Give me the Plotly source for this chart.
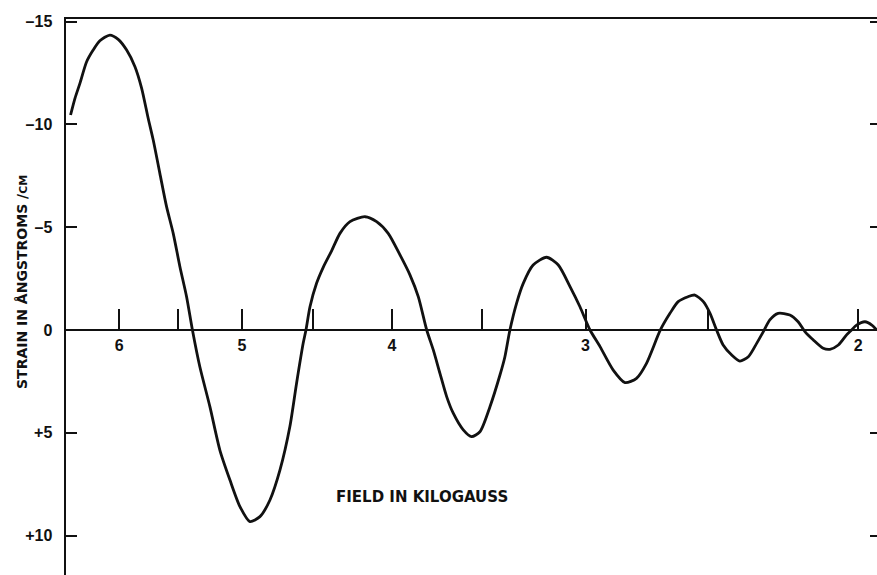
import math
import plotly.graph_objects as go

# ---- data (field in kilogauss, strain in Å/cm) ----
field_kG = [6.451, 6.409, 6.362, 6.299, 6.238, 6.176, 6.085, 6.010, 5.935, 5.862,
            5.804, 5.748, 5.705, 5.649, 5.593, 5.538, 5.483, 5.429, 5.382, 5.323,
            5.244, 5.167, 5.090, 5.015, 4.941, 4.868, 4.796, 4.725, 4.656, 4.610,
            4.565, 4.546, 4.519, 4.475, 4.431, 4.376, 4.322, 4.258, 4.164, 4.093,
            4.023, 3.953, 3.895, 3.847, 3.799, 3.762, 3.725, 3.688, 3.652, 3.598,
            3.554, 3.510, 3.458, 3.407, 3.382, 3.357, 3.324, 3.291, 3.243, 3.179,
            3.124, 3.070, 3.025, 2.980, 2.936, 2.879, 2.829, 2.781, 2.740, 2.684,
            2.646, 2.614, 2.576, 2.550, 2.518, 2.493, 2.469, 2.445, 2.414, 2.385,
            2.355, 2.326, 2.303, 2.281, 2.253, 2.214, 2.187, 2.165, 2.138, 2.107,
            2.086, 2.060, 2.035, 2.020, 2.005, 1.980, 1.960, 1.946]
strain = [-10.46, -11.27, -12.00, -13.05, -13.62, -14.07, -14.35, -14.14, -13.62, -12.81,
          -11.76, -10.30, -9.24, -7.62, -6.00, -4.70, -3.08, -1.62, 0.0, 1.79,
          3.73, 5.84, 7.30, 8.59, 9.32, 9.08, 8.27, 6.81, 4.70, 2.59,
          0.65, 0.0, -1.13, -2.27, -3.05, -3.85, -4.70, -5.27, -5.51, -5.27,
          -4.70, -3.65, -2.68, -1.62, 0.0, 0.97, 2.11, 3.24, 4.05, 4.86,
          5.19, 4.95, 3.73, 2.19, 1.30, 0.0, -1.30, -2.27, -3.16, -3.54,
          -3.16, -2.11, -1.13, 0.0, 0.81, 1.95, 2.56, 2.35, 1.62, 0.0,
          -0.81, -1.38, -1.62, -1.70, -1.38, -0.81, 0.0, 0.73, 1.22, 1.51,
          1.30, 0.65, 0.08, -0.49, -0.81, -0.73, -0.40, 0.08, 0.49, 0.89,
          0.94, 0.73, 0.24, 0.0, -0.24, -0.40, -0.24, 0.0]
assert len(field_kG) == len(strain)

x_tick_vals = [6, 5.5, 5, 4.5, 4, 3.5, 3, 2.5, 2]
x_tick_text = ["6", "", "5", "", "4", "", "3", "", "2"]
y_tick_vals = [-15, -10, -5, 0, 5, 10]
y_tick_text = ["\u201315", "\u201310", "\u20135", "0", "+5", "+10"]

x_title = "FIELD IN KILOGAUSS"
y_title = "STRAIN IN \u00c5NGSTROMS /<span style='font-size:11px'>CM</span>"

# ---- layout settings ----
W, H = 877, 575
ML, MR, MT, MB = 66, 0, 19, 0
x_range_kG = (6.495, 1.945)           # reversed, log scale
y_range = (11.92, -15.13)             # reversed (negative at top)
x_range_log = [math.log10(x_range_kG[0]), math.log10(x_range_kG[1])]
zero_pos = (y_range[0] - 0) / (y_range[0] - y_range[1])

FONT = "Liberation Sans, Arial, sans-serif"
TFONT = "DejaVu Sans, sans-serif"
INK = "#111111"

fig = go.Figure()
fig.add_trace(go.Scatter(
    x=field_kG, y=strain, mode="lines",
    line=dict(color=INK, width=2.8, shape="spline", smoothing=0.7),
    xaxis="x", yaxis="y", hoverinfo="skip", showlegend=False,
))
# invisible companions so the overlaid axes (zero-line axis, right ticks) are drawn
fig.add_trace(go.Scatter(x=field_kG, y=strain, mode="lines", opacity=0,
                         line=dict(width=0), xaxis="x2", yaxis="y",
                         hoverinfo="skip", showlegend=False))
fig.add_trace(go.Scatter(x=field_kG, y=strain, mode="lines", opacity=0,
                         line=dict(width=0), xaxis="x", yaxis="y2",
                         hoverinfo="skip", showlegend=False))

fig.update_layout(
    width=W, height=H,
    margin=dict(l=ML, r=MR, t=MT, b=MB, pad=0, autoexpand=False),
    paper_bgcolor="white", plot_bgcolor="white",
    font=dict(family=FONT, color=INK),
    showlegend=False,
    xaxis=dict(
        type="log", range=x_range_log, side="top",
        showline=True, linecolor=INK, linewidth=2,
        ticks="", showticklabels=False, showgrid=False, zeroline=False,
    ),
    xaxis2=dict(
        type="log", range=x_range_log, overlaying="x",
        anchor="free", position=zero_pos, side="bottom",
        showline=True, linecolor=INK, linewidth=2,
        ticks="inside", ticklen=20, tickwidth=2, tickcolor=INK,
        tickvals=x_tick_vals, ticktext=x_tick_text,
        tickfont=dict(size=16, family=FONT, color=INK, weight="bold"),
        ticklabelstandoff=1,
        showgrid=False, zeroline=False,
    ),
    yaxis=dict(
        range=list(y_range), showline=True, linecolor=INK, linewidth=2.5,
        ticks="inside", ticklen=11, tickwidth=2, tickcolor=INK,
        tickvals=y_tick_vals, ticktext=y_tick_text,
        tickfont=dict(size=16, family=FONT, color=INK, weight="bold"),
        ticklabelstandoff=8,
        showgrid=False, zeroline=False,
    ),
    yaxis2=dict(
        range=list(y_range), overlaying="y", side="right", anchor="x",
        showline=False, ticks="inside", ticklen=7, tickwidth=2, tickcolor=INK,
        tickvals=y_tick_vals, showticklabels=False,
        showgrid=False, zeroline=False,
    ),
    annotations=[
        dict(text=x_title, xref="paper", yref="paper",
             x=(422 - ML) / (W - ML - MR), y=(H - 497) / (H - MT - MB),
             showarrow=False, xanchor="center", yanchor="middle",
             font=dict(size=15, family=TFONT, color=INK, weight="bold")),
        dict(text=y_title, xref="paper", yref="paper",
             x=(22 - ML) / (W - ML - MR), y=(H - 282) / (H - MT - MB),
             textangle=-90, showarrow=False, xanchor="center", yanchor="middle",
             font=dict(size=14, family=TFONT, color=INK, weight="bold")),
    ],
)

fig.write_html("out.html",
               config={"displayModeBar": False, "staticPlot": True},
               post_script="document.body.style.margin='0';document.body.style.overflow='hidden';")
